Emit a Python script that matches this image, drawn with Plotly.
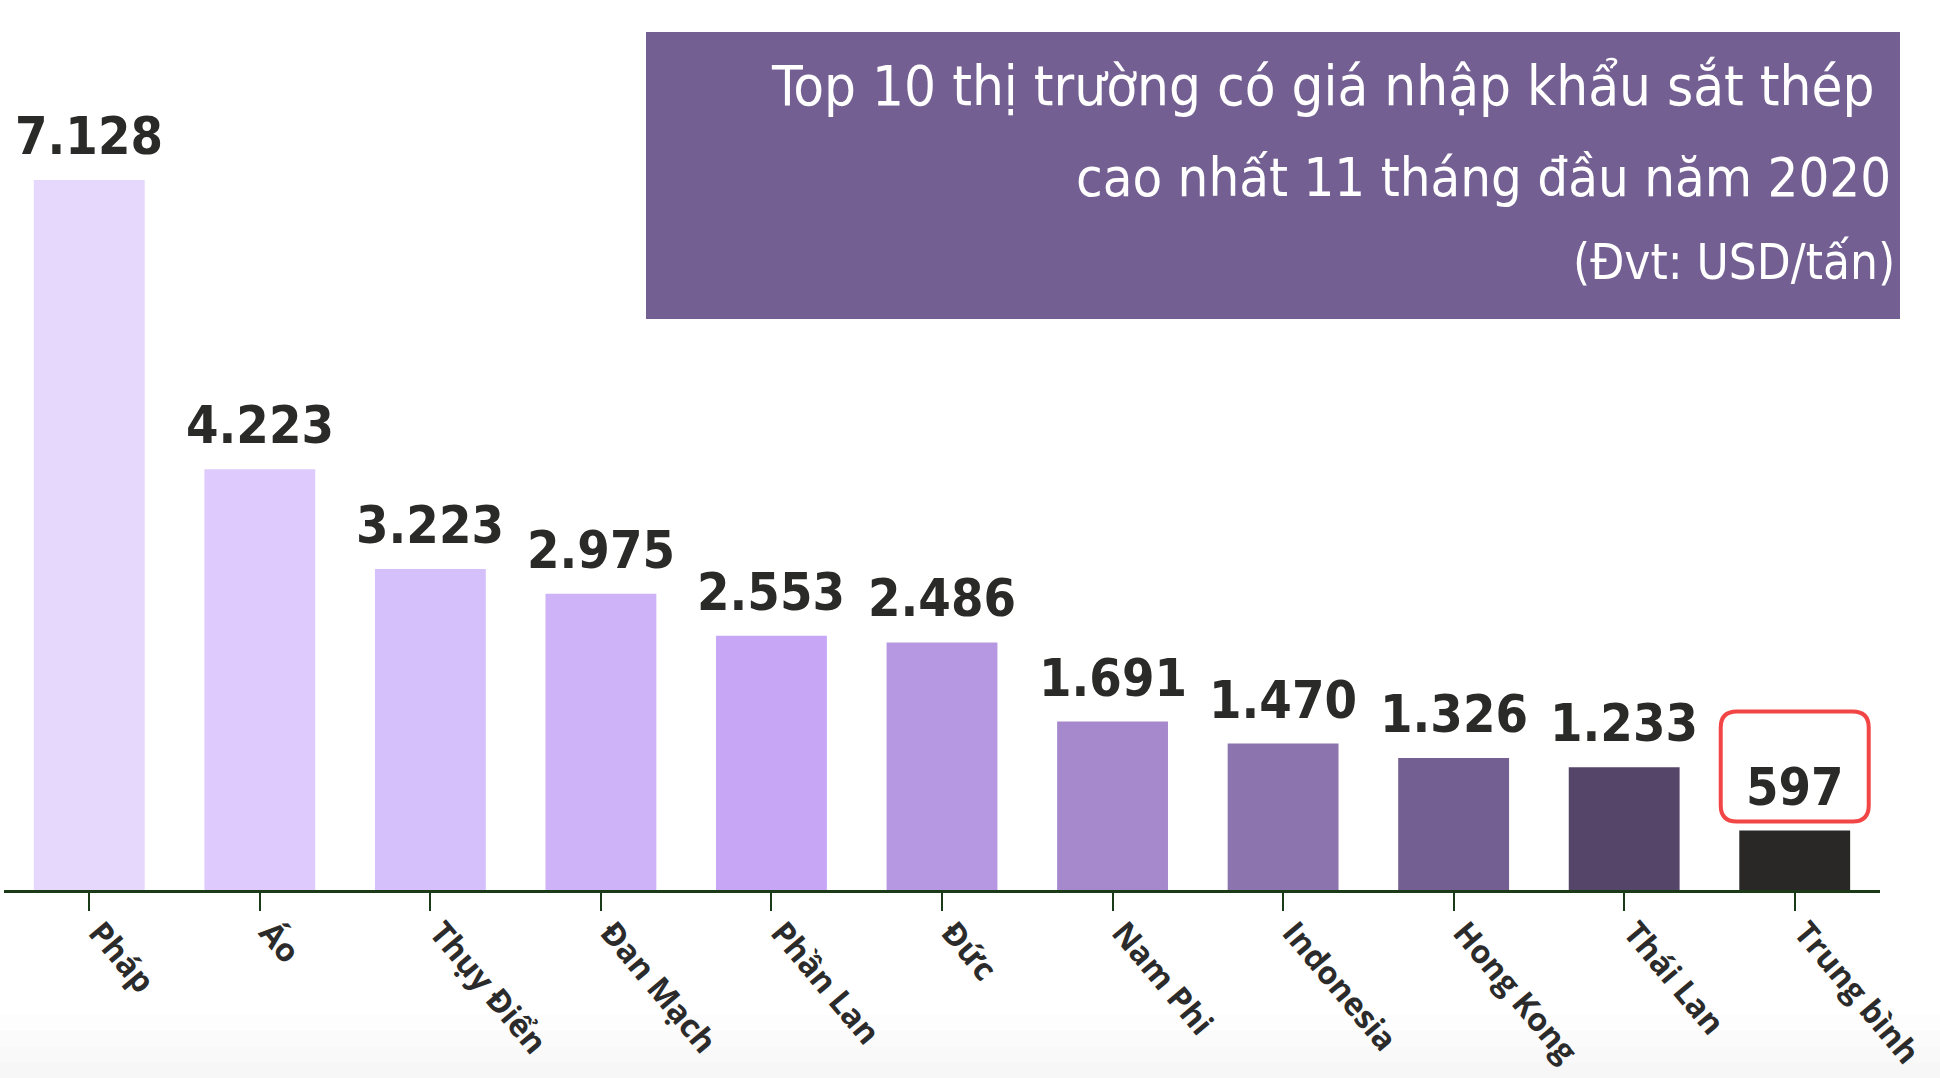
import plotly.graph_objects as go

categories = ["Pháp", "Áo", "Thụy Điển", "Đan Mạch", "Phần Lan", "Đức",
              "Nam Phi", "Indonesia", "Hong Kong", "Thái Lan", "Trung bình"]
values = [7128, 4223, 3223, 2975, 2553, 2486, 1691, 1470, 1326, 1233, 597]
value_labels = ["7.128", "4.223", "3.223", "2.975", "2.553", "2.486",
                "1.691", "1.470", "1.326", "1.233", "597"]
bar_colors = ["#e6d7fd", "#dfcafd", "#d6c0fb", "#cfb3f8", "#c7a6f6", "#b597e2",
              "#a688cc", "#8c74ae", "#735f92", "#544569", "#292826"]
title_lines = ["Top 10 thị trường có giá nhập khẩu sắt thép",
               "cao nhất 11 tháng đầu năm 2020",
               "(Đvt: USD/tấn)"]

W, H = 1940, 1078
ML, MR, MT, MB = 4, 60, 0, 188
PW, PH = W - ML - MR, H - MT - MB
n = len(categories)
YMAX = PH * 7128 / 710.0

def px_x(p):
    return (p - ML) / PW

def px_y(p):
    return (H - MB - p) / PH

COND = ("Noto Sans ExtraCondensed, Noto Sans Condensed, Liberation Sans Narrow, "
        "DejaVu Sans Condensed, sans-serif")

fig = go.Figure()
fig.add_trace(go.Bar(
    x=list(range(n)), y=values, marker=dict(color=bar_colors, line=dict(width=0)),
    hoverinfo="skip", showlegend=False,
))

annotations = []
for i, (v, lab) in enumerate(zip(values, value_labels)):
    annotations.append(dict(
        x=i, y=v, xref="x", yref="y", text="<b>" + lab + "</b>", showarrow=False,
        xanchor="center", yanchor="bottom", yshift=12,
        font=dict(family=COND, size=52, color="#2a2a28"),
    ))

# Title box
shapes = [dict(type="rect", xref="paper", yref="paper",
               x0=px_x(646), x1=px_x(1900), y0=px_y(319), y1=px_y(32),
               fillcolor="#735f92", line=dict(width=0), layer="above")]

title_specs = [(title_lines[0], 1877, 86, 56), (title_lines[1], 1893, 177, 54),
               (title_lines[2], 1897, 263, 49)]
for txt, xr, ym, sz in title_specs:
    annotations.append(dict(
        x=px_x(xr), y=px_y(ym), xref="paper", yref="paper", text=txt,
        showarrow=False, xanchor="right", yanchor="middle",
        font=dict(family=COND, size=sz, color="#ffffff"),
    ))

# Red rounded highlight box around the last label
bw = PW / n
ypp = YMAX / PH
last = n - 1
v = values[last]
xl, xr = last - 74 / bw, last + 74 / bw
yb, yt = v + 9 * ypp, v + 119 * ypp
rx, ry = 16 / bw, 16 * ypp
path = (f"M {xl+rx},{yb} L {xr-rx},{yb} Q {xr},{yb} {xr},{yb+ry} "
        f"L {xr},{yt-ry} Q {xr},{yt} {xr-rx},{yt} L {xl+rx},{yt} "
        f"Q {xl},{yt} {xl},{yt-ry} L {xl},{yb+ry} Q {xl},{yb} {xl+rx},{yb} Z")
shapes.append(dict(type="path", xref="x", yref="y", path=path,
                   line=dict(color="#f24646", width=4), fillcolor="rgba(0,0,0,0)"))

# subtle bottom gradient
grays = ["#fdfdfd", "#fbfbfb", "#f9f9f9", "#f7f7f7"]
for k, g in enumerate(grays):
    shapes.append(dict(type="rect", xref="paper", yref="paper",
                       x0=px_x(0), x1=px_x(W), y0=px_y(H), y1=px_y(1015 + k * 16),
                       fillcolor=g, line=dict(width=0), layer="below"))

fig.update_layout(
    width=W, height=H,
    margin=dict(l=ML, r=MR, t=MT, b=MB, pad=0, autoexpand=False),
    paper_bgcolor="#ffffff", plot_bgcolor="rgba(0,0,0,0)",
    bargap=0.35,
    xaxis=dict(range=[-0.5, n - 0.5], tickmode="array", tickvals=list(range(n)),
               ticktext=categories, tickangle=50, showgrid=False, zeroline=False,
               automargin=False,
               showline=True, linecolor="#1b3a17", linewidth=2.5,
               ticks="outside", ticklen=18, tickcolor="#1b3a17", tickwidth=2,
               ticklabelstandoff=-10, ticklabelshift=10,
               tickfont=dict(family="Open Sans, sans-serif", size=32, color="#2b2b2b",
                             weight="bold"),
               fixedrange=True),
    yaxis=dict(range=[0, YMAX], visible=False, fixedrange=True, automargin=False),
    shapes=shapes, annotations=annotations,
)

fig.write_html("out.html", config={"displayModeBar": False},
               post_script="document.body.style.margin='0px';"
                           "document.body.style.overflow='hidden';")
